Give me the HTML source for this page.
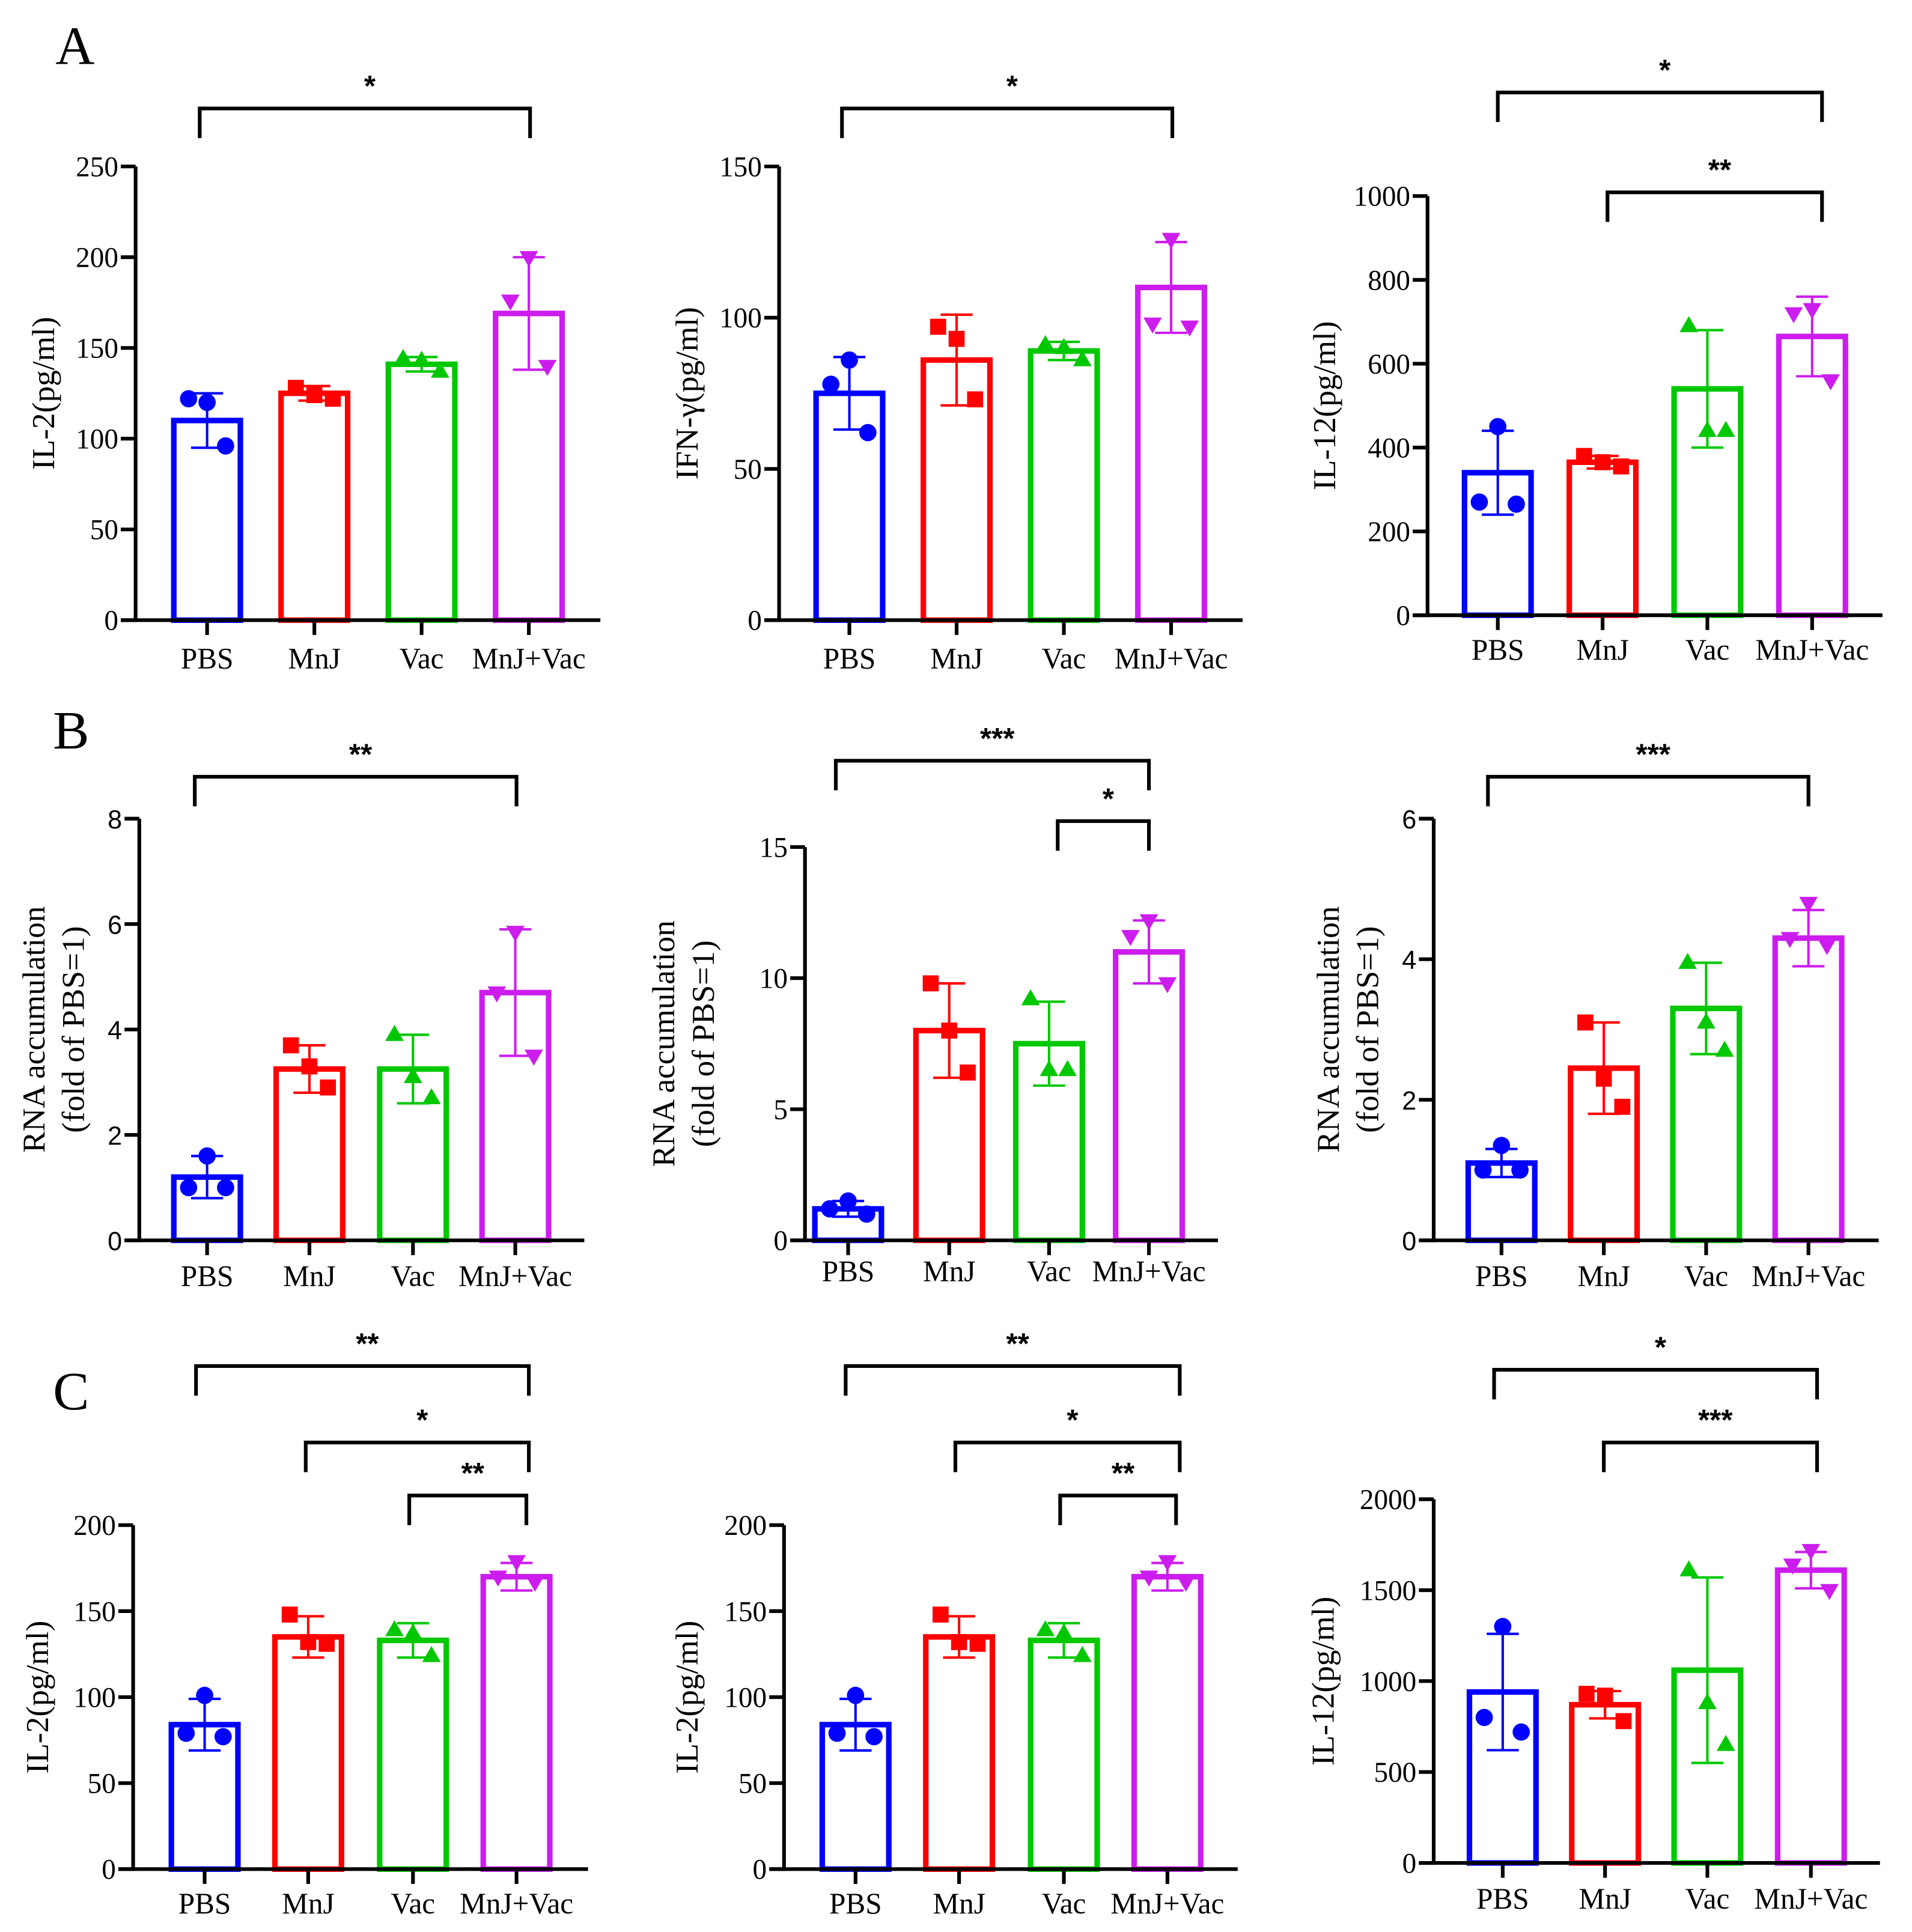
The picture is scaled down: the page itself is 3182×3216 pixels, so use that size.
<!DOCTYPE html>
<html><head><meta charset="utf-8"><style>
html,body{margin:0;padding:0;background:#fff;}
svg{display:block;font-family:"Liberation Serif",serif;}
</style></head><body>
<svg id="fig" width="3182" height="3216" viewBox="0 0 1551 1567" preserveAspectRatio="none" xmlns="http://www.w3.org/2000/svg">
<text x="45" y="52" font-size="44">A</text>
<text x="43" y="607" font-size="44">B</text>
<text x="43" y="1143" font-size="44">C</text>
</svg>
<script>
const categories = ["PBS","MnJ","Vac","MnJ+Vac"];
const colors = ["#0000ff","#ff0000","#00c800","#cc1dee"];
const markers = ["circle","square","up","down"];

const a1Means=[110,125,141,169], a1Sd=[15,4,4,31], a1Pts=[[120,122,96],[128,124,122],[144,143,137],[200,176,140]];
const a2Means=[75,86,89,110], a2Sd=[12,15,3,15], a2Pts=[[86,78,62],[97,93,73],[91,90,86],[126,98,97]];
const a3Means=[340,365,540,665], a3Sd=[100,15,140,95], a3Pts=[[450,270,265],[380,365,355],[690,440,440],[730,720,560]];
const b1Means=[1.2,3.25,3.25,4.7], b1Sd=[0.4,0.45,0.65,1.2], b1Pts=[[1.6,1.0,1.0],[3.7,3.3,2.9],[3.9,3.1,2.7],[5.85,4.7,3.5]];
const b2Means=[1.2,8.0,7.5,11.0], b2Sd=[0.3,1.8,1.6,1.2], b2Pts=[[1.5,1.2,1.0],[9.8,8.0,6.4],[9.2,6.5,6.5],[12.2,11.6,9.8]];
const b3Means=[1.1,2.45,3.3,4.3], b3Sd=[0.2,0.65,0.65,0.4], b3Pts=[[1.35,1.0,1.0],[3.1,2.3,1.9],[3.95,3.1,2.7],[4.8,4.3,4.2]];
const c1Means=[84,135,133,170], c1Sd=[15,12,10,8], c1Pts=[[101,79,77],[148,132,131],[139,137,124],[179,170,167]];
const c2Means=[84,135,133,170], c2Sd=[15,12,10,8], c2Pts=[[101,79,77],[148,132,131],[139,137,124],[179,170,167]];
const c3Means=[940,870,1060,1610], c3Sd=[320,75,510,100], c3Pts=[[1300,800,720],[930,920,780],[1610,880,650],[1720,1640,1500]];

const a1Ticks=[0,50,100,150,200,250], a2Ticks=[0,50,100,150], a3Ticks=[0,200,400,600,800,1000];
const b1Ticks=[0,2,4,6,8], b2Ticks=[0,5,10,15], b3Ticks=[0,2,4,6];
const c1Ticks=[0,50,100,150,200], c2Ticks=[0,50,100,150,200], c3Ticks=[0,500,1000,1500,2000];

const panels=[
 {id:"a1",means:a1Means,sd:a1Sd,pts:a1Pts,ticks:a1Ticks,ax:110,top:135,bot:503,right:487,bars:[168,255,342,429],title:["IL-2(pg/ml)"],tx:38,lab:540,brk:[[162,430,88,"*"]]},
 {id:"a2",means:a2Means,sd:a2Sd,pts:a2Pts,ticks:a2Ticks,ax:632,top:135,bot:503,right:1008,bars:[689,776,863,950],title:["IFN-γ(pg/ml)"],tx:560,lab:540,brk:[[683,951,88,"*"]]},
 {id:"a3",means:a3Means,sd:a3Sd,pts:a3Pts,ticks:a3Ticks,ax:1158,top:159,bot:499,right:1527,bars:[1215,1300,1385,1470],title:["IL-12(pg/ml)"],tx:1077,lab:533,brk:[[1215,1478,75,"*"],[1304,1478,156,"**"]]},
 {id:"b1",means:b1Means,sd:b1Sd,pts:b1Pts,ticks:b1Ticks,ax:113,top:664,bot:1006,right:474,bars:[168,251,335,418],title:["RNA accumulation","(fold of PBS=1)"],tx:30,lab:1041,brk:[[158,419,630,"**"]],sans:true},
 {id:"b2",means:b2Means,sd:b2Sd,pts:b2Pts,ticks:b2Ticks,ax:653,top:687,bot:1006,right:988,bars:[688,770,851,932],title:["RNA accumulation","(fold of PBS=1)"],tx:541,lab:1037,brk:[[678,932,617,"***"],[858,932,666,"*"]]},
 {id:"b3",means:b3Means,sd:b3Sd,pts:b3Pts,ticks:b3Ticks,ax:1163,top:664,bot:1006,right:1524,bars:[1218,1301,1384,1467],title:["RNA accumulation","(fold of PBS=1)"],tx:1080,lab:1041,brk:[[1207,1467,630,"***"]],sans:true},
 {id:"c1",means:c1Means,sd:c1Sd,pts:c1Pts,ticks:c1Ticks,ax:108,top:1237,bot:1516,right:477,bars:[166,250,335,419],title:["IL-2(pg/ml)"],tx:33,lab:1550,brk:[[159,429,1108,"**"],[248,429,1170,"*"],[332,427,1213,"**"]]},
 {id:"c2",means:c2Means,sd:c2Sd,pts:c2Pts,ticks:c2Ticks,ax:636,top:1237,bot:1516,right:1004,bars:[694,778,863,947],title:["IL-2(pg/ml)"],tx:560,lab:1550,brk:[[686,957,1108,"**"],[775,957,1170,"*"],[860,954,1213,"**"]]},
 {id:"c3",means:c3Means,sd:c3Sd,pts:c3Pts,ticks:c3Ticks,ax:1163,top:1216,bot:1511,right:1525,bars:[1219,1302,1385,1469],title:["IL-12(pg/ml)"],tx:1076,lab:1546,brk:[[1212,1474,1111,"*"],[1301,1474,1170,"***"]]}
];

const NS="http://www.w3.org/2000/svg";
const svg=document.getElementById("fig");
function mk(tag,attrs,parent){const e=document.createElementNS(NS,tag);for(const k in attrs)e.setAttribute(k,attrs[k]);(parent||svg).appendChild(e);return e;}

panels.forEach(p=>{
  const g=mk("g",{});
  
  
  const maxV=p.ticks[p.ticks.length-1];
  const y=v=>p.bot-(v/maxV)*(p.bot-p.top);
  const bw=54;
  p.means.forEach((m,i)=>{
    const cx=p.bars[i];
    const r=mk("rect",{x:cx-bw/2,y:y(m),width:bw,height:p.bot-y(m),fill:"none",stroke:colors[i],"stroke-width":4.5},g);
    
    
    const eb=mk("g",{stroke:colors[i],"stroke-width":2},g);
    
    
    mk("line",{x1:cx,x2:cx,y1:y(m-p.sd[i]),y2:y(m+p.sd[i])},eb);
    mk("line",{x1:cx-13,x2:cx+13,y1:y(m+p.sd[i]),y2:y(m+p.sd[i])},eb);
    mk("line",{x1:cx-13,x2:cx+13,y1:y(m-p.sd[i]),y2:y(m-p.sd[i])},eb);
    const order=i===0?[0,-15,15]:(i===3?[0,-15,15]:[-15,0,15]);
    p.pts[i].forEach((v,j)=>{
      const px=cx+order[j], py=y(v); let s;
      if(markers[i]==="circle") s=mk("circle",{cx:px,cy:py,r:7,fill:colors[i]},g);
      else if(markers[i]==="square") s=mk("rect",{x:px-6.5,y:py-6.5,width:13,height:13,fill:colors[i]},g);
      else if(markers[i]==="up") s=mk("polygon",{points:`${px},${py-8} ${px-7.5},${py+5} ${px+7.5},${py+5}`,fill:colors[i]},g);
      else s=mk("polygon",{points:`${px},${py+8} ${px-7.5},${py-5} ${px+7.5},${py-5}`,fill:colors[i]},g);
      
      
    });
  });
  const ya=mk("line",{x1:p.ax,x2:p.ax,y1:p.top,y2:p.bot+1.5,stroke:"#000","stroke-width":3},g);
  
  
  const xa=mk("line",{x1:p.ax-12,x2:p.right,y1:p.bot,y2:p.bot,stroke:"#000","stroke-width":3},g);
  
  
  p.ticks.forEach(t=>{
    mk("line",{x1:p.ax-12,x2:p.ax,y1:y(t),y2:y(t),stroke:"#000","stroke-width":3},g);
    const tl=mk("text",{x:p.ax-14,y:y(t)+8,"text-anchor":"end","font-size":p.sans?21:23,"font-family":p.sans?"Liberation Sans, sans-serif":"Liberation Serif, serif"},g);
    tl.textContent=t;
    
    
  });
  categories.forEach((c,i)=>{
    mk("line",{x1:p.bars[i],x2:p.bars[i],y1:p.bot,y2:p.bot+12,stroke:"#000","stroke-width":3},g);
    const xl=mk("text",{x:p.bars[i],y:p.lab+2,"text-anchor":"middle","font-size":24},g);
    xl.textContent=c;
    
    
  });
  const cy=(p.top+p.bot)/2;
  p.title.forEach((t,k)=>{
    const tx=p.tx+k*32;
    const tt=mk("text",{x:tx,y:cy,"text-anchor":"middle","font-size":26,transform:`rotate(-90 ${tx} ${cy})`,"dominant-baseline":"middle"},g);
    tt.textContent=t;
    
    
  });
  p.brk.forEach(b=>{
    const bg=mk("path",{d:`M${b[0]},${b[2]+24} V${b[2]} H${b[1]} V${b[2]+24}`,fill:"none",stroke:"#000","stroke-width":3},g);
    
    
    const st=mk("text",{x:(b[0]+b[1])/2+4,y:b[2]-10,"text-anchor":"middle","font-size":24,"font-family":"Liberation Sans, sans-serif","font-weight":"bold"},g);
    st.textContent=b[3];
    
    
  });
});
</script>
</body></html>
